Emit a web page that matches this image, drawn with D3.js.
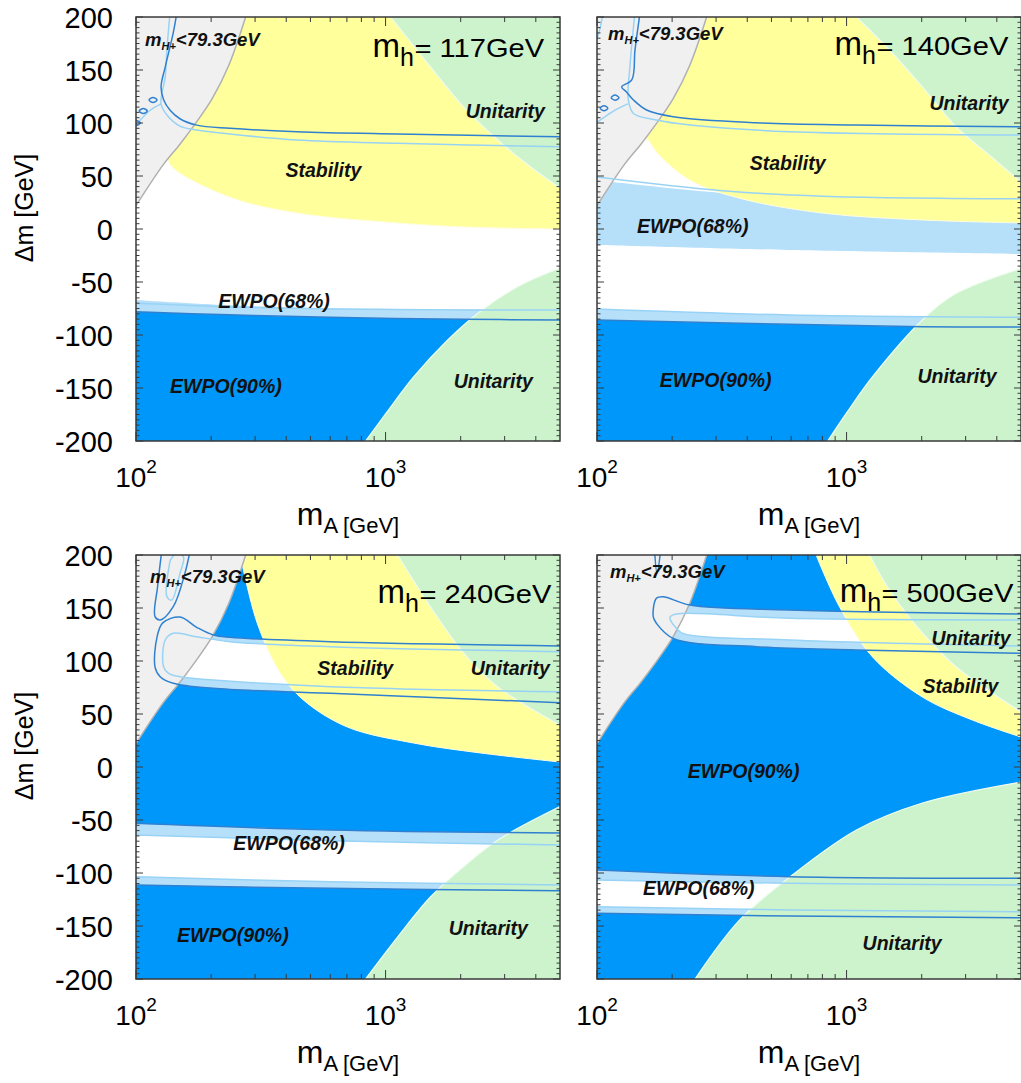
<!DOCTYPE html>
<html><head><meta charset="utf-8">
<script src="https://cdn.jsdelivr.net/npm/d3@7/dist/d3.min.js"></script>
<style>
body{margin:0;background:#fff}
text{font-family:"Liberation Sans",Arial,Helvetica,sans-serif}
</style>
</head><body>
<svg id="c" width="1021" height="1083"></svg>
<script>
// ---------- axes ----------
const X_MIN = 100, X_MAX = 5000, Y_MIN = -200, Y_MAX = 200;
const yTickValues = [200, 150, 100, 50, 0, -50, -100, -150, -200];
const xTickValues = [100, 1000];
const xTickBase = ["10", "10"];
const xTickExp = ["2", "3"];
const xMinorTicks = [200, 300, 400, 500, 600, 700, 800, 900, 2000, 3000, 4000];
const mhValues = ["117", "140", "240", "500"];

// ---------- shared: m_H+ < 79.3 GeV boundary ----------
const chargedLimit = [[100, 22], [128, 60], [150, 80], [170, 97], [202, 123], [235, 154], [275, 200]];

// ---------- panel 1 : m_h = 117 ----------
const p1Stability = [[128, 200], [128, 100], [133, 68], [141, 57.5], [238, 30], [443, 15], [1117, 5.7], [2057, 1.9], [5000, 0]];
const p1UnitUpper = [[1047, 200], [1516, 152.8], [2057, 115], [2818, 84], [3822, 58.5], [5000, 38.7]];
const p1UnitLower = [[831, -200], [1000, -174.5], [1295, -139.6], [1774, -104.7], [2407, -77.4], [3485, -52.8], [5000, -36.8]];
const p1Ewpo90Edge = [[100, -78], [238, -81], [600, -83.3], [2057, -85.2], [5000, -85.8]];
const p1Ewpo68Top = [[100, -67], [238, -72], [600, -74.8], [2057, -75.8], [5000, -76]];
const p1DarkUpper = [[146, 205], [141, 185], [131, 153], [126, 134], [129, 122], [137, 112], [150, 104], [175, 98], [238, 95], [442, 91.8], [1114, 89.6], [5000, 87]];
const p1LightUpper = [[137, 205], [133, 169], [131, 144], [126, 118], [133, 107.5], [150, 97], [175, 93.4], [238, 89.6], [442, 84], [1114, 80.8], [5000, 77.6]];
const p1LightBranch = [[126, 118], [114, 112], [98, 96]];
const p1LightLower = [[100, -70], [238, -73.5], [600, -75.5], [2057, -76.3], [5000, -76.4]];
const p1LoopA = [[112.8, 121.7], [117, 124], [121.4, 121.7], [117, 119.4]];
const p1LoopB = [[103, 111.3], [107, 113.6], [111, 111.3], [107, 109]];
const p1LoopC = [[96, 100], [100, 102.3], [104, 100], [100, 97.7]];

// ---------- panel 2 : m_h = 140 ----------
const p2Stability = [[139, 200], [139, 96], [160, 84], [174, 72], [236, 46], [373, 29], [802, 15], [2014, 8.5], [5000, 5.7]];
const p2UnitUpper = [[1096, 200], [1486, 168.9], [2014, 134], [2754, 96.2], [3733, 69.8], [5000, 44.3]];
const p2UnitLower = [[840, -200], [1010, -172], [1271, -139.3], [2014, -85.8], [2754, -60.7], [5000, -37.1]];
const p2Ewpo90Edge = [[100, -85.8], [592, -89.9], [2014, -92.2], [5000, -92.5]];
const p2Ewpo68TopA = [[100, -75.5], [592, -81.1], [5000, -83.3]];
const p2Band68Top = [[100, 46], [319, 34], [802, 30], [5000, 27.4]];
const p2Band68Bottom = [[100, -15], [592, -19.8], [5000, -23.6]];
const p2DarkUpper = [[149, 205], [142, 169], [138, 141], [125.5, 134], [131, 129.5], [140, 121.7], [158, 112.3], [202, 106], [435, 100.3], [1094, 98.1], [5000, 96.5]];
const p2LightUpper = [[142, 205], [135.5, 153], [133.5, 121.7], [140, 109], [173, 102.8], [235.5, 98.1], [592, 91.8], [5000, 88.7]];
const p2LightBandTop = [[100, 49], [319, 36], [802, 31], [5000, 28.5]];
const p2LightBranch = [[133, 118], [116, 111], [98, 99]];
const p2LightCorner = [[106, 205], [102, 186], [97, 172]];
const p2LoopA = [[114, 123.9], [118, 126.3], [122.5, 123.9], [118, 121.5]];
const p2LoopB = [[103, 113.9], [106.7, 116.3], [110.5, 113.9], [106.7, 111.5]];

// ---------- panel 3 : m_h = 240 ----------
const p3Stability = [[261.6, 200], [306, 135.8], [378.6, 88.7], [468.6, 63.2], [703, 37.7], [1295, 22.6], [2407, 13.2], [5000, 4.7]];
const p3UnitUpper = [[1117, 200], [1516, 150.9], [2057, 107.5], [2818, 75.5], [5000, 39.6]];
const p3UnitLower = [[831, -200], [1117, -160.4], [1516, -122.4], [2057, -94], [2818, -68.9], [5000, -37.4]];
const p3Contour90Upper = [[5000, 114.2], [601, 118.2], [238.5, 122.3], [204, 124.5], [175, 131.8], [150, 141.5], [128, 136], [121.4, 122.6], [119.2, 94.3], [125, 85.2], [141, 79], [204, 74.2], [601, 69.5], [5000, 60.7]];
const p3Contour68Upper = [[5000, 108.8], [601, 113.5], [238, 118.2], [175, 122.9], [141, 126.1], [131, 119.8], [129, 94.6], [135, 88.4], [150, 85.2], [204, 82.1], [601, 75.8], [5000, 71]];
const p3Lower90Top = [[100, -53], [601, -59.4], [5000, -62.3]];
const p3Lower68Top = [[100, -64.2], [601, -69.5], [5000, -73.6]];
const p3Lower68Bot = [[100, -103.5], [601, -108.2], [5000, -111.3]];
const p3Lower90Bot = [[100, -111.3], [601, -114.5], [5000, -116.7]];
const p3TearDark = [[127, 205], [122, 170], [119.2, 141.8], [125, 138.7], [141, 151.2], [157, 182.7], [165, 205]];
const p3TearLight = [[137, 195], [133, 160.7], [139, 157.5], [150, 182.7], [155, 198], [146, 202], [137, 195]];

// ---------- panel 4 : m_h = 500 ----------
const p4Stability = [[755, 200], [938, 150.9], [1271, 103.8], [2014, 66], [3192, 44.3], [5000, 28.3]];
const p4UnitUpper = [[1236, 200], [1486, 167], [2014, 126.4], [2754, 94.3], [5000, 51.9]];
const p4UnitLower = [[247, -200], [373, -144.3], [592, -103.8], [1096, -59.4], [2014, -34], [5000, -14.2]];
const p4Contour90Upper = [[5000, 144.3], [592, 148.1], [235.5, 152.8], [184, 160.7], [173, 159.2], [168, 141.8], [173, 135.6], [202, 121.4], [435, 113.5], [1094, 110.4], [5000, 107.3]];
const p4Contour68Upper = [[5000, 138.7], [592, 140.3], [208, 144.3], [196, 141.2], [208, 130.8], [221, 126.1], [592, 119.8], [5000, 114.2]];
const p4Lower90Top = [[100, -97.2], [592, -103.5], [5000, -105]];
const p4Lower68Top = [[100, -106.6], [592, -109.7], [5000, -111.3]];
const p4Lower68Bot = [[100, -131.8], [592, -134.9], [5000, -136.5]];
const p4Lower90Bot = [[100, -138], [592, -140.6], [5000, -142.2]];
const p4Tiny = [[170, 205], [174, 183], [180, 205]];

// ---------- labels [text, mA, dm] ----------
const p1Labels = [["Unitarity", 2096, 104.7], ["Stability", 397, 49.1], ["EWPO(68%)", 213.5, -74.5], ["EWPO(90%)", 137, -154.7], ["Unitarity", 1875, -150]];
const p2Labels = [["Unitarity", 2148, 112.3], ["Stability", 409, 55.7], ["EWPO(68%)", 144.5, -3.8], ["EWPO(90%)", 178.6, -149.1], ["Unitarity", 1923, -145.3]];
const p3Labels = [["Stability", 533, 86.8], ["Unitarity", 2195, 86.8], ["EWPO(68%)", 245.3, -78.3], ["EWPO(90%)", 146.1, -165.1], ["Unitarity", 1791, -158.5]];
const p4Labels = [["Unitarity", 2188, 115.1], ["Stability", 2014, 69.8], ["EWPO(90%)", 231.2, -10.4], ["EWPO(68%)", 152.8, -120.8], ["Unitarity", 1159, -172.6]];
const chargedLabelPos = [[108.7, 172.6], [110.7, 178.3], [113.8, 173.6], [112.7, 178.3]];
const mhLabelPos = [[887, 162.3], [895, 164.2], [929, 154.7], [938, 155.7]];

// ---------- styling ----------
const COL = {
  dark: "#0097fa", light: "#b6dffa", yellow: "#ffff9c", green: "#ccf3cc",
  gray: "#f0f0f0", grayLine: "#b0b0b0", cDark: "#2f80d0", cLight: "#98d3f6", frame: "#3a3a3a"
};

const svg = d3.select("#c");
const defs = svg.append("defs");

const panels = [
  { id: 1, x0: 136, x1: 560, y0: 17, y1: 441, yLabels: true,
    ewpo90: { b: p1Ewpo90Edge, c: [[X_MAX, Y_MIN], [X_MIN, Y_MIN]] },
    lightBands: [[p1Ewpo68Top, p1Ewpo90Edge]], lightLoops: [], whiteBands: [], whiteLoops: [],
    stability: p1Stability, unitU: p1UnitUpper, unitL: p1UnitLower,
    darkLines: [p1DarkUpper, p1Ewpo90Edge], lightLines: [p1LightUpper, p1LightBranch, p1LightLower],
    darkClosed: [p1LoopA, p1LoopB, p1LoopC], labels: p1Labels },
  { id: 2, x0: 597, x1: 1021, y0: 17, y1: 441, yLabels: false,
    ewpo90: { b: p2Ewpo90Edge, c: [[X_MAX, Y_MIN], [X_MIN, Y_MIN]] },
    lightBands: [[p2Ewpo68TopA, p2Ewpo90Edge], [p2Band68Top, p2Band68Bottom]], lightLoops: [], whiteBands: [], whiteLoops: [],
    stability: p2Stability, unitU: p2UnitUpper, unitL: p2UnitLower,
    darkLines: [p2DarkUpper, p2Ewpo90Edge], lightLines: [p2LightUpper, p2LightBandTop, p2Ewpo68TopA, p2LightBranch, p2LightCorner],
    darkClosed: [p2LoopA, p2LoopB], labels: p2Labels },
  { id: 3, x0: 136, x1: 560, y0: 555, y1: 979, yLabels: true,
    ewpo90: { b: [], c: [[X_MIN, Y_MAX], [X_MAX, Y_MAX], [X_MAX, Y_MIN], [X_MIN, Y_MIN]] },
    lightBands: [[p3Lower90Top, p3Lower90Bot]], lightLoops: [p3Contour90Upper],
    whiteBands: [[p3Lower68Top, p3Lower68Bot]], whiteLoops: [p3Contour68Upper],
    stability: p3Stability, unitU: p3UnitUpper, unitL: p3UnitLower,
    darkLines: [p3Contour90Upper, p3Lower90Top, p3Lower90Bot, p3TearDark],
    lightLines: [p3Contour68Upper, p3Lower68Top, p3Lower68Bot, p3TearLight],
    darkClosed: [], labels: p3Labels },
  { id: 4, x0: 597, x1: 1021, y0: 555, y1: 979, yLabels: false,
    ewpo90: { b: [], c: [[X_MIN, Y_MAX], [X_MAX, Y_MAX], [X_MAX, Y_MIN], [X_MIN, Y_MIN]] },
    lightBands: [[p4Lower90Top, p4Lower90Bot]], lightLoops: [p4Contour90Upper],
    whiteBands: [[p4Lower68Top, p4Lower68Bot]], whiteLoops: [p4Contour68Upper],
    stability: p4Stability, unitU: p4UnitUpper, unitL: p4UnitLower,
    darkLines: [p4Contour90Upper, p4Lower90Top, p4Lower90Bot, p4Tiny],
    lightLines: [p4Contour68Upper, p4Lower68Top, p4Lower68Bot],
    darkClosed: [], labels: p4Labels }
];

panels.forEach((cfg, i) => {
  const x = d3.scaleLog().domain([X_MIN, X_MAX]).range([cfg.x0, cfg.x1]);
  const y = d3.scaleLinear().domain([Y_MIN, Y_MAX]).range([cfg.y1, cfg.y0]);
  const line = d3.line().x(d => x(d[0])).y(d => y(d[1])).curve(d3.curveCatmullRom.alpha(0.5));
  const closedLine = d3.line().x(d => x(d[0])).y(d => y(d[1])).curve(d3.curveCatmullRomClosed.alpha(0.5));
  const pt = d => `${x(d[0])},${y(d[1])}`;
  const region = (b, corners) => (b.length ? line(b) : "M" + pt(corners[0])) + corners.map(c => "L" + pt(c)).join("") + "Z";
  const band = (top, bot) => line(top) + "L" + line(bot.slice().reverse()).slice(1) + "Z";

  defs.append("clipPath").attr("id", "clip" + cfg.id)
    .append("rect").attr("x", cfg.x0).attr("y", cfg.y0)
    .attr("width", cfg.x1 - cfg.x0).attr("height", cfg.y1 - cfg.y0);

  const g = svg.append("g");
  const area = g.append("g").attr("clip-path", `url(#clip${cfg.id})`);

  area.append("rect").attr("x", cfg.x0).attr("y", cfg.y0)
    .attr("width", cfg.x1 - cfg.x0).attr("height", cfg.y1 - cfg.y0).attr("fill", "#fff");

  // EWPO 90% excluded
  area.append("path").attr("d", region(cfg.ewpo90.b, cfg.ewpo90.c)).attr("fill", COL.dark);
  // EWPO 68% excluded
  cfg.lightBands.forEach(b => area.append("path").attr("d", band(b[0], b[1])).attr("fill", COL.light));
  cfg.lightLoops.forEach(l => area.append("path").attr("d", line(l) + "Z").attr("fill", COL.light));
  // allowed
  cfg.whiteBands.forEach(b => area.append("path").attr("d", band(b[0], b[1])).attr("fill", "#fff"));
  cfg.whiteLoops.forEach(l => area.append("path").attr("d", line(l) + "Z").attr("fill", "#fff"));

  // stability
  area.append("path").attr("d", region(cfg.stability, [[X_MAX, Y_MAX]])).attr("fill", COL.yellow);
  area.append("path").attr("d", line(cfg.stability)).attr("fill", "none").attr("stroke", "#fffde0").attr("stroke-width", 1);

  // unitarity
  area.append("path").attr("d", region(cfg.unitU, [[X_MAX, Y_MAX]])).attr("fill", COL.green);
  area.append("path").attr("d", region(cfg.unitL, [[X_MAX, Y_MIN]])).attr("fill", COL.green);
  [cfg.unitU, cfg.unitL].forEach(u => area.append("path").attr("d", line(u))
    .attr("fill", "none").attr("stroke", "#effcef").attr("stroke-width", 1.2));

  // charged Higgs limit
  area.append("path").attr("d", region(chargedLimit, [[X_MIN, Y_MAX]])).attr("fill", COL.gray);
  area.append("path").attr("d", line(chargedLimit)).attr("fill", "none")
    .attr("stroke", COL.grayLine).attr("stroke-width", 1.5);

  // contour lines
  cfg.lightLines.forEach(l => area.append("path").attr("d", line(l)).attr("fill", "none")
    .attr("stroke", COL.cLight).attr("stroke-width", 1.5));
  cfg.darkLines.forEach(l => area.append("path").attr("d", line(l)).attr("fill", "none")
    .attr("stroke", COL.cDark).attr("stroke-width", 1.5));
  cfg.darkClosed.forEach(l => area.append("path").attr("d", closedLine(l)).attr("fill", "none")
    .attr("stroke", COL.cDark).attr("stroke-width", 1.5));

  // region labels
  cfg.labels.forEach(l => g.append("text")
    .attr("x", x(l[1])).attr("y", y(l[2]))
    .attr("font-size", 19.5).attr("font-weight", "bold").attr("font-style", "italic")
    .attr("fill", "#111").text(l[0]));

  // m_H+ label
  const cl = g.append("text").attr("x", x(chargedLabelPos[i][0])).attr("y", y(chargedLabelPos[i][1]))
    .attr("font-weight", "bold").attr("font-style", "italic").attr("fill", "#111");
  cl.append("tspan").attr("font-size", 18.5).text("m");
  cl.append("tspan").attr("font-size", 11).attr("dy", 4).text("H+");
  cl.append("tspan").attr("font-size", 18.5).attr("dy", -4).text("<79.3GeV");

  // m_h label
  const mx = x(mhLabelPos[i][0]), my = y(mhLabelPos[i][1]);
  const mh = g.append("text").attr("x", mx).attr("y", my).attr("fill", "#000");
  mh.append("tspan").attr("font-size", 33).text("m");
  mh.append("tspan").attr("font-size", 25).attr("dy", 9).text("h");
  const mw = mh.node().getComputedTextLength();
  g.append("text").attr("transform", `translate(${mx + mw + 0.5},${my}) scale(1.12,1)`)
    .attr("font-size", 26).attr("fill", "#000").text("= " + mhValues[i] + "GeV");

  // frame + ticks
  const tk = g.append("g").attr("stroke", COL.frame).attr("stroke-width", 1);
  d3.range(Y_MIN, Y_MAX + 1, 5).forEach(v => {
    const major = v % 50 === 0;
    const L = major ? 7 : 3.5;
    tk.append("line").attr("x1", cfg.x0).attr("x2", cfg.x0 + L).attr("y1", y(v)).attr("y2", y(v));
    tk.append("line").attr("x1", cfg.x1).attr("x2", cfg.x1 - L).attr("y1", y(v)).attr("y2", y(v));
  });
  xMinorTicks.forEach(v => {
    tk.append("line").attr("x1", x(v)).attr("x2", x(v)).attr("y1", cfg.y1).attr("y2", cfg.y1 - 5);
    tk.append("line").attr("x1", x(v)).attr("x2", x(v)).attr("y1", cfg.y0).attr("y2", cfg.y0 + 5);
  });
  xTickValues.forEach(v => {
    tk.append("line").attr("x1", x(v)).attr("x2", x(v)).attr("y1", cfg.y1).attr("y2", cfg.y1 - 9);
    tk.append("line").attr("x1", x(v)).attr("x2", x(v)).attr("y1", cfg.y0).attr("y2", cfg.y0 + 9);
  });
  g.append("rect").attr("x", cfg.x0).attr("y", cfg.y0)
    .attr("width", cfg.x1 - cfg.x0).attr("height", cfg.y1 - cfg.y0)
    .attr("fill", "none").attr("stroke", COL.frame).attr("stroke-width", 1.5);

  // y tick labels
  if (cfg.yLabels) {
    yTickValues.forEach(v => g.append("text")
      .attr("x", cfg.x0 - 23).attr("y", y(v) + 10.5)
      .attr("text-anchor", "end").attr("font-size", 29).attr("fill", "#000").text(v));
    g.append("text")
      .attr("transform", `translate(33,${(cfg.y0 + cfg.y1) / 2 - 21}) rotate(-90)`)
      .attr("text-anchor", "middle").attr("font-size", 25).attr("fill", "#000").text("Δm [GeV]");
  }
  // x tick labels
  xTickValues.forEach((v, k) => {
    const t = g.append("text").attr("x", x(v)).attr("y", cfg.y1 + 46)
      .attr("text-anchor", "middle").attr("fill", "#000");
    t.append("tspan").attr("font-size", 28).text(xTickBase[k]);
    t.append("tspan").attr("font-size", 19).attr("dy", -14).text(xTickExp[k]);
  });
  // x title
  const xt = g.append("text").attr("x", (cfg.x0 + cfg.x1) / 2).attr("y", cfg.y1 + 84)
    .attr("text-anchor", "middle").attr("fill", "#000");
  xt.append("tspan").attr("font-size", 32).text("m");
  xt.append("tspan").attr("font-size", 22).attr("dy", 8).text("A [GeV]");
});
</script>
</body></html>
